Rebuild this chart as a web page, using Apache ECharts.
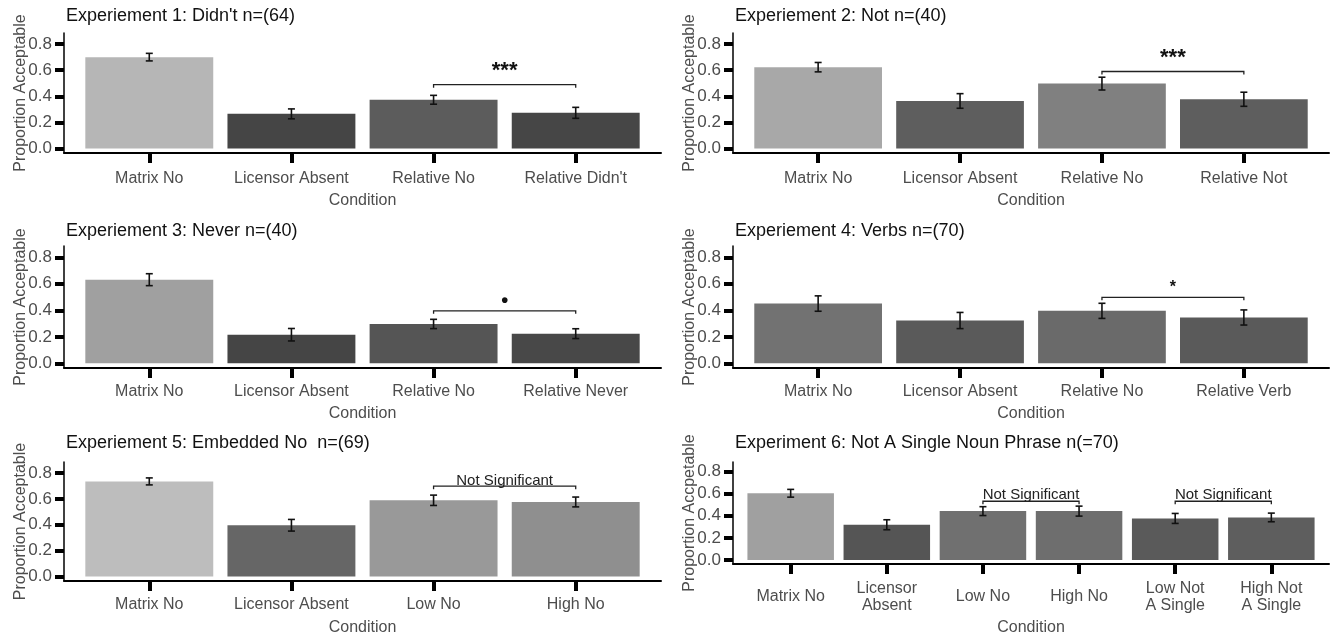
<!DOCTYPE html>
<html>
<head>
<meta charset="utf-8">
<script src="https://cdn.jsdelivr.net/npm/echarts@6/dist/echarts.min.js"></script>
<style>
html, body { margin: 0; padding: 0; background: #fff; }
#chart { width: 1331px; height: 638px; }
</style>
</head>
<body>
<div id="chart"></div>
<script>
// panel titles
const titles = [
  "Experiement 1: Didn't n=(64)",
  "Experiement 2: Not n=(40)",
  "Experiement 3: Never n=(40)",
  "Experiement 4: Verbs n=(70)",
  "Experiement 5: Embedded No  n=(69)",
  "Experiment 6: Not A Single Noun Phrase n(=70)",
]
const yNames = [
  "Proportion Acceptable", "Proportion Acceptable", "Proportion Acceptable",
  "Proportion Acceptable", "Proportion Acceptable", "Proportion Accpetable",
]
const yTicks = [0, 0.2, 0.4, 0.6, 0.8]

// categories
const cats1 = ["Matrix No", "Licensor Absent", "Relative No", "Relative Didn't"]
const cats2 = ["Matrix No", "Licensor Absent", "Relative No", "Relative Not"]
const cats3 = ["Matrix No", "Licensor Absent", "Relative No", "Relative Never"]
const cats4 = ["Matrix No", "Licensor Absent", "Relative No", "Relative Verb"]
const cats5 = ["Matrix No", "Licensor Absent", "Low No", "High No"]
const cats6 = ["Matrix No", "Licensor\nAbsent", "Low No", "High No", "Low Not\nA Single", "High Not\nA Single"]

// proportion acceptable (bar heights)
const mean1 = [0.700, 0.265, 0.373, 0.273]
const mean2 = [0.623, 0.364, 0.497, 0.377]
const mean3 = [0.631, 0.216, 0.297, 0.224]
const mean4 = [0.451, 0.323, 0.396, 0.346]
const mean5 = [0.735, 0.396, 0.589, 0.576]
const mean6 = [0.603, 0.319, 0.442, 0.442, 0.376, 0.385]

// standard errors (error bar half length)
const se1 = [0.029, 0.038, 0.034, 0.042]
const se2 = [0.036, 0.056, 0.049, 0.054]
const se3 = [0.045, 0.047, 0.035, 0.037]
const se4 = [0.058, 0.061, 0.057, 0.057]
const se5 = [0.027, 0.045, 0.040, 0.038]
const se6 = [0.035, 0.045, 0.040, 0.045, 0.045, 0.039]

// significance brackets: [from, to, bracket y, label y, label]
const sig1 = [[3, 4, 0.489, 0.597, "***"]]
const sig2 = [[3, 4, 0.590, 0.697, "***"]]
const sig3 = [[3, 4, 0.396, 0.469, "•"]]
const sig4 = [[3, 4, 0.498, 0.568, "*"]]
const sig5 = [[3, 4, 0.698, 0.743, "Not Significant"]]
const sig6 = [[3, 4, 0.531, 0.585, "Not Significant"], [5, 6, 0.531, 0.585, "Not Significant"]]

// bar fills (grey levels)
const colors1 = ["#b6b6b6", "#454545", "#5c5c5c", "#464646"]
const colors2 = ["#a8a8a8", "#5e5e5e", "#808080", "#5e5e5e"]
const colors3 = ["#a0a0a0", "#454545", "#555555", "#484848"]
const colors4 = ["#727272", "#5a5a5a", "#6a6a6a", "#5a5a5a"]
const colors5 = ["#bdbdbd", "#666666", "#999999", "#8f8f8f"]
const colors6 = ["#a0a0a0", "#555555", "#707070", "#6e6e6e", "#5a5a5a", "#5e5e5e"]

const panels = [
  { cats: cats1, mean: mean1, se: se1, sig: sig1, colors: colors1 },
  { cats: cats2, mean: mean2, se: se2, sig: sig2, colors: colors2 },
  { cats: cats3, mean: mean3, se: se3, sig: sig3, colors: colors3 },
  { cats: cats4, mean: mean4, se: se4, sig: sig4, colors: colors4 },
  { cats: cats5, mean: mean5, se: se5, sig: sig5, colors: colors5 },
  { cats: cats6, mean: mean6, se: se6, sig: sig6, colors: colors6 },
]

// layout (pixels)
const layout = [
  { left: 64, top: 33, width: 597, height: 120, titleTop: 7, labelGap: 26, nameGap: 40 },
  { left: 733, top: 33, width: 596, height: 120, titleTop: 7, labelGap: 26, nameGap: 40 },
  { left: 64, top: 246, width: 597, height: 122, titleTop: 222, labelGap: 24, nameGap: 38 },
  { left: 733, top: 246, width: 596, height: 122, titleTop: 222, labelGap: 24, nameGap: 38 },
  { left: 64, top: 462, width: 597, height: 119, titleTop: 434, labelGap: 24, nameGap: 39 },
  { left: 733, top: 462, width: 596, height: 102, titleTop: 434, labelGap: 33, nameGap: 56 },
]

const FONT = "'Liberation Sans', Arial, sans-serif"
const TEXT = "#4d4d4d"

const chart = echarts.init(document.getElementById("chart"))

const grid = [], xAxis = [], yAxis = [], title = [], series = []

panels.forEach((p, i) => {
  const L = layout[i]
  const n = p.cats.length
  const idx = p.cats.map((c, j) => j + 1)
  grid.push({ left: L.left, top: L.top, width: L.width, height: L.height, outerBoundsMode: "none" })
  title.push({
    text: titles[i], left: L.left + 2, top: L.titleTop, padding: 0,
    textStyle: { fontFamily: FONT, fontSize: 18, fontWeight: "normal", color: "#111" },
  })
  xAxis.push({
    type: "value", gridIndex: i, min: 0.4, max: n + 0.6,
    name: "Condition", nameLocation: "middle", nameGap: L.nameGap, nameMoveOverlap: false,
    nameTextStyle: { fontFamily: FONT, fontSize: 16, color: TEXT },
    axisLine: { onZero: false, lineStyle: { color: "#000", width: 2 } },
    axisTick: { customValues: idx, length: 10, lineStyle: { color: "#000", width: 4 } },
    axisLabel: {
      customValues: idx, margin: L.labelGap, verticalAlign: "middle",
      fontFamily: FONT, fontSize: 16, color: TEXT, lineHeight: 17,
      formatter: v => p.cats[Math.round(v) - 1] || "",
    },
    splitLine: { show: false },
  })
  yAxis.push({
    type: "value", gridIndex: i, min: -0.035, max: 0.885,
    name: yNames[i], nameLocation: "middle", nameGap: 35, nameMoveOverlap: false,
    nameTextStyle: { fontFamily: FONT, fontSize: 16, color: TEXT },
    axisLine: { show: true, onZero: false, lineStyle: { color: "#000", width: 1.5 } },
    axisTick: { customValues: yTicks, length: 9, lineStyle: { color: "#000", width: 4 } },
    axisLabel: {
      customValues: yTicks, margin: 12, fontFamily: FONT, fontSize: 17, color: TEXT,
      formatter: v => v.toFixed(1),
    },
    splitLine: { show: false },
  })
  series.push({
    type: "bar", xAxisIndex: i, yAxisIndex: i, barWidth: "90%", z: 2,
    data: p.mean.map((m, j) => ({ value: [j + 1, m], itemStyle: { color: p.colors[j] } })),
  })
  series.push({
    type: "custom", xAxisIndex: i, yAxisIndex: i, z: 5,
    data: p.mean.map((m, j) => [j + 1, m - p.se[j], m + p.se[j]]),
    renderItem: (params, api) => {
      const hi = api.coord([api.value(0), api.value(2)])
      const lo = api.coord([api.value(0), api.value(1)])
      const w = 3.5
      const st = { stroke: "#111", lineWidth: 1.6 }
      return {
        type: "group", children: [
          { type: "line", shape: { x1: hi[0], y1: hi[1], x2: lo[0], y2: lo[1] }, style: st },
          { type: "line", shape: { x1: hi[0] - w, y1: hi[1], x2: hi[0] + w, y2: hi[1] }, style: st },
          { type: "line", shape: { x1: lo[0] - w, y1: lo[1], x2: lo[0] + w, y2: lo[1] }, style: st },
        ],
      }
    },
  })
  series.push({
    type: "custom", xAxisIndex: i, yAxisIndex: i, z: 5,
    data: p.sig.map(s => [s[0], s[1], s[2], s[3]]),
    renderItem: (params, api) => {
      const s = p.sig[params.dataIndex]
      const a = api.coord([api.value(0), api.value(2)])
      const b = api.coord([api.value(1), api.value(2)])
      const t = api.coord([(api.value(0) + api.value(1)) / 2, api.value(3)])
      const tip = 3
      const ns = s[4] === "Not Significant"
      const fs = ns ? 15 : (s[4] === "***" ? 22 : (s[4] === "*" ? 16 : 20))
      return {
        type: "group", children: [
          {
            type: "polyline",
            shape: { points: [[a[0], a[1] + tip], a, b, [b[0], b[1] + tip]] },
            style: { stroke: "#222", lineWidth: 1.3, fill: null },
          },
          {
            type: "text", x: t[0], y: t[1],
            style: {
              text: s[4], align: "center", verticalAlign: "middle",
              fontFamily: FONT, fontSize: fs, fontWeight: ns ? "normal" : "bold",
              fill: ns ? "#222" : "#111",
            },
          },
        ],
      }
    },
  })
})

chart.setOption({ animation: false, title, grid, xAxis, yAxis, series })
</script>
</body>
</html>
